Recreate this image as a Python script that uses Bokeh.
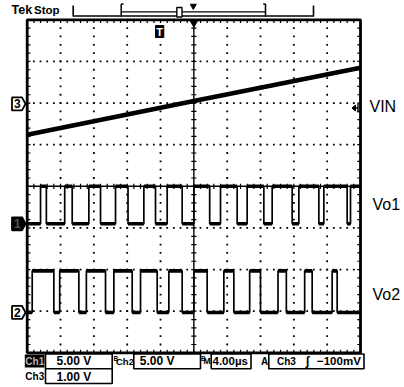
import numpy as np
from bokeh.plotting import figure
from bokeh.models import Range1d
from bokeh.core.properties import value
from bokeh.embed import file_html
from bokeh.resources import INLINE

# ---------------- data ----------------
time_per_div_us = 4.0
ch1_volts_per_div = 5.0
ch2_volts_per_div = 5.0
ch3_volts_per_div = 1.0
ch1_ground_div = -0.90
ch2_ground_div = -3.03
ch3_ground_div = 1.98
trigger_level_v = -0.100

# VIN (Ch3), volts relative to its marker
vin_t_us = [-20.0, 0.0, 20.0]
vin_v = [-0.74, 0.07, 0.87]

# Vo1 (Ch1)
vo1_low_v = 0.0
vo1_high_v = 4.5
vo1_rise_us = [-18.4, -15.5, -12.6, -9.4, -6.0, -3.2, 0.0, 3.2, 6.4, 9.4, 12.6, 15.6, 18.8]
vo1_fall_us = [-17.7, -14.6, -11.2, -7.9, -4.6, -1.4, 1.9, 5.2, 8.4, 11.8, 15.0, 18.4]

# Vo2 (Ch2)
vo2_low_v = 0.0
vo2_high_v = 5.0
vo2_rise_us = [-19.4, -16.1, -12.9, -9.6, -6.4, -3.0, 0.0, 3.6, 6.7, 10.1, 13.3, 16.6]
vo2_fall_us = [-16.8, -13.8, -10.6, -7.4, -4.4, -1.4, 1.6, 4.8, 8.0, 11.1, 14.2, 17.2]

trace_labels = ["VIN", "Vo1", "Vo2"]
status_ch1 = "5.00 V"
status_ch2 = "5.00 V"
status_ch3 = "1.00 V"
status_time = "4.00\u00b5s"
status_trig_src = "Ch3"
status_trig_lvl = "\u2212100mV"

# ---------------- layout ----------------
WPX, HPX = 404, 387
G_LEFT, G_TOP = 26.7, 19.3
DIVX, DIVY = 33.33, 41.63
NX, NY = 10, 8

XS = -NX / 2 * time_per_div_us - G_LEFT / DIVX * time_per_div_us
XE = -NX / 2 * time_per_div_us + (WPX - G_LEFT) / DIVX * time_per_div_us
YT = NY / 2 + G_TOP / DIVY
YB = NY / 2 - (HPX - G_TOP) / DIVY

def X(px):
    return XS + px / WPX * (XE - XS)

def Y(py):
    return YT - py / HPX * (YT - YB)

DX = (XE - XS) / WPX   # data units per pixel
DY = (YT - YB) / HPX

def chan_range(ground_div, vpd):
    return Range1d((YB - ground_div) * vpd, (YT - ground_div) * vpd)

p = figure(width=WPX, height=HPX, x_range=Range1d(XS, XE), y_range=Range1d(YB, YT),
           x_axis_type=None, y_axis_type=None, toolbar_location=None,
           output_backend="svg", min_border=0, outline_line_color=None,
           background_fill_color="white", border_fill_color="white")
p.extra_y_ranges = {
    "ch1": chan_range(ch1_ground_div, ch1_volts_per_div),
    "ch2": chan_range(ch2_ground_div, ch2_volts_per_div),
    "ch3": chan_range(ch3_ground_div, ch3_volts_per_div),
}

BLK = "black"
HX = NX / 2 * time_per_div_us
HY = NY / 2
FONT = value("Liberation Sans")
BOLD = value("bold")

# ---------------- graticule ----------------
dot_x, dot_y = [], []
minor_x = np.linspace(-HX, HX, NX * 5 + 1)
minor_y = np.linspace(-HY, HY, NY * 5 + 1)
for gy in range(-3, 4):
    if gy == 0:
        continue
    dot_x += list(minor_x)
    dot_y += [gy] * len(minor_x)
for gx in range(-4, 5):
    if gx == 0:
        continue
    dot_x += [gx * time_per_div_us] * len(minor_y)
    dot_y += list(minor_y)
p.scatter(dot_x, dot_y, marker="square", size=1.8, fill_color=BLK, line_color=None)

p.segment(x0=[0, -HX], y0=[-HY, 0], x1=[0, HX], y1=[HY, 0], line_color=BLK, line_width=1.4)
tl = 2.6
p.segment(x0=list(minor_x), x1=list(minor_x), y0=[-tl * DY] * len(minor_x), y1=[tl * DY] * len(minor_x),
          line_color=BLK, line_width=1.2)
p.segment(y0=list(minor_y), y1=list(minor_y), x0=[-tl * DX] * len(minor_y), x1=[tl * DX] * len(minor_y),
          line_color=BLK, line_width=1.2)
bl = 3.2
p.segment(x0=list(minor_x) * 2, x1=list(minor_x) * 2,
          y0=[HY] * len(minor_x) + [-HY] * len(minor_x),
          y1=[HY - bl * DY] * len(minor_x) + [-HY + bl * DY] * len(minor_x),
          line_color=BLK, line_width=1.2)
p.segment(y0=list(minor_y) * 2, y1=list(minor_y) * 2,
          x0=[-HX] * len(minor_y) + [HX] * len(minor_y),
          x1=[-HX + bl * DX] * len(minor_y) + [HX - bl * DX] * len(minor_y),
          line_color=BLK, line_width=1.2)
p.quad(left=-HX, right=HX, bottom=-HY, top=HY, fill_color=None, line_color=BLK, line_width=2.8)

# ---------------- traces ----------------
def square_wave(rise, fall, lo, hi):
    edges = sorted([(t, hi) for t in rise] + [(t, lo) for t in fall])
    level = lo if edges[0][1] == hi else hi
    xs, ys = [-HX], [level]
    seg_x0, seg_x1, seg_y = [], [], []
    start = -HX
    for t, new in edges:
        seg_x0.append(start); seg_x1.append(t); seg_y.append(level)
        xs += [t, t]; ys += [level, new]
        level = new; start = t
    xs.append(HX); ys.append(level)
    seg_x0.append(start); seg_x1.append(HX); seg_y.append(level)
    return xs, ys, seg_x0, seg_x1, seg_y

for rise, fall, lo, hi, rn in [(vo1_rise_us, vo1_fall_us, vo1_low_v, vo1_high_v, "ch1"),
                               (vo2_rise_us, vo2_fall_us, vo2_low_v, vo2_high_v, "ch2")]:
    xs, ys, sx0, sx1, sy = square_wave(rise, fall, lo, hi)
    p.line(xs, ys, y_range_name=rn, line_color=BLK, line_width=1.7)
    p.segment(x0=sx0, x1=sx1, y0=sy, y1=sy, y_range_name=rn, line_color=BLK, line_width=3.6)

p.line(vin_t_us, vin_v, y_range_name="ch3", line_color=BLK, line_width=4.6)

# ---------------- text helper (visual centre of capitals at py) ----------------
def txt(px, py, s, size="12px", color=BLK, style=BOLD, align="left"):
    p.text(x=[X(px)], y=[Y(py)], text=[s], text_font=FONT, text_font_style=style,
           text_font_size=size, text_color=color, text_align=align, text_baseline="middle")

# ---------------- channel markers (left) ----------------
def marker(ground_div, filled, label):
    xs = [X(11.5), X(21.5), X(25), X(21.5), X(11.5)]
    ys = [ground_div + 6.5 * DY, ground_div + 6.5 * DY, ground_div, ground_div - 6.5 * DY, ground_div - 6.5 * DY]
    p.patch(xs, ys, fill_color=BLK if filled else "white", line_color=BLK, line_width=1.8)
    p.text(x=[X(16.8)], y=[ground_div], text=[label], text_align="center", text_baseline="middle",
           text_font=FONT, text_font_style=BOLD, text_font_size="12px",
           text_color="#555555" if filled else BLK)

marker(ch3_ground_div, False, "3")
marker(ch1_ground_div, True, "1")
marker(ch2_ground_div, False, "2")

# trigger level arrow (right, Ch3)
tly = trigger_level_v / ch3_volts_per_div + ch3_ground_div
p.patch([X(351.5), X(355), X(355)], [tly, tly + 3 * DY, tly - 3 * DY], fill_color=BLK, line_color=BLK, line_width=1)
p.segment(x0=[X(354)], x1=[X(357.5)], y0=[tly], y1=[tly], line_color=BLK, line_width=1.4)
p.segment(x0=[X(357.5)], x1=[X(357.5)], y0=[tly + 4.5 * DY], y1=[tly - 4.5 * DY], line_color=BLK, line_width=1.4)

# trace labels (right)
for lab, lx, ly in zip(trace_labels, [369, 372, 372], [105.8, 204.0, 293.5]):
    txt(lx, ly, lab, size="16px", style=value("normal"))

# ---------------- top bar ----------------
txt(11, 9.3, "Tek", size="12.5px")
txt(33.5, 9.6, "Stop", size="11.5px")
p.segment(x0=[X(72.7)], x1=[X(313)], y0=[Y(15.5)], y1=[Y(15.5)], line_color=BLK, line_width=1.4)
p.segment(x0=[X(72.7), X(313)], x1=[X(72.7), X(313)], y0=[Y(5)] * 2, y1=[Y(16)] * 2, line_color=BLK, line_width=1.6)
p.segment(x0=[X(120.7), X(265)], x1=[X(120.7), X(265)], y0=[Y(3.5)] * 2, y1=[Y(16)] * 2, line_color=BLK, line_width=1.5)
p.segment(x0=[X(120.7), X(265)], x1=[X(123), X(262.7)], y0=[Y(3.5)] * 2, y1=[Y(3.5)] * 2, line_color=BLK, line_width=1.3)
p.segment(x0=[X(120.7)], x1=[X(265)], y0=[Y(11.3)], y1=[Y(11.3)], line_color=BLK, line_width=1.3)
p.quad(left=[X(176.3)], right=[X(181.5)], top=[Y(7)], bottom=[Y(16.5)], fill_color="white", line_color=BLK, line_width=1.4)
p.scatter([X(192.8)], [Y(5.5)], marker="inverted_triangle", size=6, fill_color=BLK, line_color=BLK)
p.scatter([0], [HY - 2.8 * DY], marker="inverted_triangle", size=8, fill_color=BLK, line_color=BLK)
# trigger point marker "T"
p.quad(left=[X(155)], right=[X(163.3)], top=[Y(25)], bottom=[Y(37)], fill_color=BLK, line_color=BLK, line_width=1)
txt(159.2, 31.3, "T", size="11px", color="white", align="center")

# ---------------- status bar ----------------
def box(x0, x1, y0, y1):
    p.quad(left=[X(x0)], right=[X(x1)], top=[Y(y0)], bottom=[Y(y1)], fill_color="white", line_color=BLK, line_width=1.6)

R1T, R1B, R2B = 353.5, 368.2, 383.0
C1, C2 = 360.7, 376.3
# boxes first, then texts
p.quad(left=[X(24.3)], right=[X(44)], top=[Y(354)], bottom=[Y(367)], fill_color=BLK, line_color=None)
box(45, 111.7, R1T, R1B)
box(133.3, 200, R1T, R1B)
box(210.7, 250.5, R1T, R1B)
box(268.3, 363.5, R1T, R1B)
box(45, 111.7, R1B, R2B)

txt(24.8, C1, "Ch1", color="#b0b0b0", size="10px")
txt(56, C1, status_ch1, size="12px")
txt(113, 357.5, "B", size="6.5px")
txt(115.5, C1, "Ch2", size="9.5px")
txt(139.3, C1, status_ch2, size="12px")
txt(200.5, 357.5, "B", size="6.5px")
txt(203, C1, "M", size="8.5px")
txt(212, C1, status_time, size="11.5px")
txt(260.5, C1, "A", size="10px")
txt(276.5, C1, status_trig_src, size="10px")
txt(305, C1, "\u0283", size="12px")
txt(316.5, C1, status_trig_lvl, size="11.5px")
txt(24.8, C2, "Ch3", size="10px")
txt(56, C2, status_ch3, size="12px")

open("out.html", "w").write(file_html(p, INLINE))
